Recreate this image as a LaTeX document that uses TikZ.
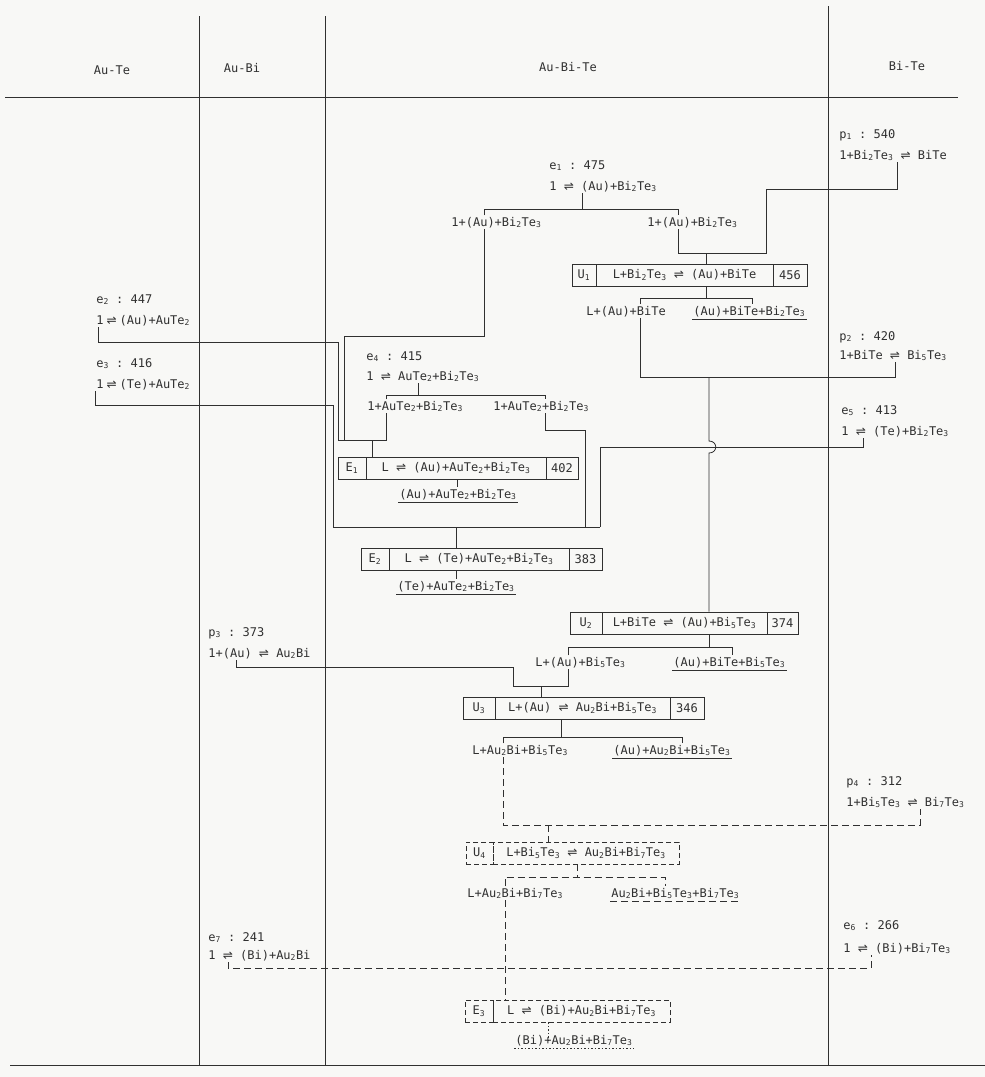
\documentclass[tikz,border=0pt]{standalone}
\usepackage{fontspec}
\newfontfamily\lf{DejaVu Sans Mono}
\newfontfamily\af{DejaVu Sans}
\newcommand\dn[1]{\textsubscript{#1}}
\newcommand\rx{{\af ⇌}}
\newcommand\nrx{\hspace{3pt}{\af ⇌}\hspace{3pt}}
\definecolor{ink}{HTML}{303030}
\definecolor{paper}{HTML}{F8F8F6}
\begin{document}
\begin{tikzpicture}[x=1pt,y=-1pt,line width=0.8pt,color=ink,
  font=\lf\fontsize{12}{14}\selectfont,
  lab/.style={inner sep=1pt,anchor=base west},
  hd/.style={inner sep=1pt,anchor=base},
  cell/.style={draw,inner sep=0pt,minimum height=22pt,anchor=center},
  dsh/.style={dash pattern=on 7pt off 4pt},
  dcell/.style={cell,dash pattern=on 5pt off 3pt},
  dot/.style={dash pattern=on 1.5pt off 2pt}]
\useasboundingbox (0,0) rectangle (985,1077);
\fill[paper] (0,0) rectangle (985,1077);
% table frame
\draw (5,97) -- (958,97);
\draw (199,16) -- (199,1065);
\draw (325,16) -- (325,1065);
\draw (828,6) -- (828,1065);
\draw (10,1065) -- (985,1065);
\node[hd] (hAuTe) at (112,74) {Au-Te};
\node[hd] (hAuBi) at (242,72) {Au-Bi};
\node[hd] (hAuBiTe) at (568,71) {Au-Bi-Te};
\node[hd] (hBiTe) at (907,70) {Bi-Te};
% labels
\node[lab] (p1a) at (838,138) {p\dn1~:~540};
\node[lab] (p1b) at (838,159) {1+Bi\dn2Te\dn3~\rx~BiTe};
\node[lab] (e1a) at (548,169) {e\dn1~:~475};
\node[lab] (e1b) at (548,190) {1~\rx~(Au)+Bi\dn2Te\dn3};
\node[lab] (e1L) at (450,226) {1+(Au)+Bi\dn2Te\dn3};
\node[lab] (e1R) at (646,226) {1+(Au)+Bi\dn2Te\dn3};
\node[cell,minimum width=24pt] (U1a) at (584,275) {U\dn1};
\node[cell,minimum width=177pt] (U1m) at (684.5,275) {L+Bi\dn2Te\dn3~\rx~(Au)+BiTe};
\node[cell,minimum width=34pt] (U1t) at (790,275) {456};
\node[lab] (U1L) at (585,315) {L+(Au)+BiTe};
\node[lab] (U1R) at (692,315) {(Au)+BiTe+Bi\dn2Te\dn3};
\node[lab] (e2a) at (95,303) {e\dn2~:~447};
\node[lab] (e2b) at (95,324) {1\nrx(Au)+AuTe\dn2};
\node[lab] (e3a) at (95,367) {e\dn3~:~416};
\node[lab] (e3b) at (95,388) {1\nrx(Te)+AuTe\dn2};
\node[lab] (p2a) at (838,340) {p\dn2~:~420};
\node[lab] (p2b) at (838,359) {1+BiTe~\rx~Bi\dn5Te\dn3};
\node[lab] (e4a) at (365,360) {e\dn4~:~415};
\node[lab] (e4b) at (365,380) {1~\rx~AuTe\dn2+Bi\dn2Te\dn3};
\node[lab] (e4L) at (366,410) {1+AuTe\dn2+Bi\dn2Te\dn3};
\node[lab] (e4R) at (492,410) {1+AuTe\dn2+Bi\dn2Te\dn3};
\node[lab] (e5a) at (840,414) {e\dn5~:~413};
\node[lab] (e5b) at (840,435) {1~\rx~(Te)+Bi\dn2Te\dn3};
\node[cell,minimum width=28pt] (E1a) at (352,468) {E\dn1};
\node[cell,minimum width=180pt] (E1m) at (456,468) {L~\rx~(Au)+AuTe\dn2+Bi\dn2Te\dn3};
\node[cell,minimum width=32pt] (E1t) at (562,468) {402};
\node[hd] (E1p) at (458,498) {(Au)+AuTe\dn2+Bi\dn2Te\dn3};
\node[cell,minimum width=28pt] (E2a) at (375,559) {E\dn2};
\node[cell,minimum width=180pt] (E2m) at (479,559) {L~\rx~(Te)+AuTe\dn2+Bi\dn2Te\dn3};
\node[cell,minimum width=33pt] (E2t) at (585.5,559) {383};
\node[hd] (E2p) at (456,590) {(Te)+AuTe\dn2+Bi\dn2Te\dn3};
\node[cell,minimum width=32pt] (U2a) at (586,623) {U\dn2};
\node[cell,minimum width=165pt] (U2m) at (684.5,623) {L+BiTe~\rx~(Au)+Bi\dn5Te\dn3};
\node[cell,minimum width=31pt] (U2t) at (782.5,623) {374};
\node[lab] (U2L) at (534,666) {L+(Au)+Bi\dn5Te\dn3};
\node[lab] (U2R) at (672,666) {(Au)+BiTe+Bi\dn5Te\dn3};
\node[lab] (p3a) at (207,636) {p\dn3~:~373};
\node[lab] (p3b) at (207,657) {1+(Au)~\rx~Au\dn2Bi};
\node[cell,minimum width=32pt] (U3a) at (479,708) {U\dn3};
\node[cell,minimum width=175pt] (U3m) at (582.5,708) {L+(Au)~\rx~Au\dn2Bi+Bi\dn5Te\dn3};
\node[cell,minimum width=34pt] (U3t) at (687,708) {346};
\node[lab] (U3L) at (471,754) {L+Au\dn2Bi+Bi\dn5Te\dn3};
\node[lab] (U3R) at (612,754) {(Au)+Au\dn2Bi+Bi\dn5Te\dn3};
\node[lab] (p4a) at (845,785) {p\dn4~:~312};
\node[lab] (p4b) at (845,806) {1+Bi\dn5Te\dn3~\rx~Bi\dn7Te\dn3};
\node[dcell,minimum width=27pt] (U4a) at (479.5,853) {U\dn4};
\node[dcell,minimum width=186pt] (U4m) at (586,853) {L+Bi\dn5Te\dn3~\rx~Au\dn2Bi+Bi\dn7Te\dn3};
\node[lab] (U4L) at (466,897) {L+Au\dn2Bi+Bi\dn7Te\dn3};
\node[lab] (U4R) at (610,897) {Au\dn2Bi+Bi\dn5Te\dn3+Bi\dn7Te\dn3};
\node[lab] (e6a) at (842,929) {e\dn6~:~266};
\node[lab] (e6b) at (842,952) {1~\rx~(Bi)+Bi\dn7Te\dn3};
\node[lab] (e7a) at (207,941) {e\dn7~:~241};
\node[lab] (e7b) at (207,959) {1~\rx~(Bi)+Au\dn2Bi};
\node[dcell,minimum width=28pt] (E3a) at (479,1011) {E\dn3};
\node[dcell,minimum width=177pt] (E3m) at (581.5,1011) {L~\rx~(Bi)+Au\dn2Bi+Bi\dn7Te\dn3};
\node[lab] (E3p) at (514,1044) {(Bi)+Au\dn2Bi+Bi\dn7Te\dn3};
% junction coordinates
\coordinate (jU1) at (706,253);
\coordinate (jE1) at (372,440);
\coordinate (jE2) at (456,527);
\coordinate (jU2) at (709,377);
\coordinate (jU3) at (541,686);
\coordinate (jU4) at (548,825);
% connectors
\draw (p1b.south -| 897,0) -- (897,189) -- (766,189) -- (766,253) -- (678,253) -- (e1R.south -| 678,0);
\draw (jU1) -- (U1m.north -| jU1);
\draw (e1b.south -| 582,0) -- (582,209);
\draw (e1L.north -| 484,0) -- (484,209) -- (678,209) -- (e1R.north -| 678,0);
\draw (e1L.south -| 484,0) -- (484,336) -- (344,336) -- (344,440);
\draw (e2b.south -| 98,0) -- (98,342) -- (338,342) -- (338,440);
\draw (e4b.south -| 418,0) -- (418,395);
\draw (e4L.north -| 386,0) -- (386,395) -- (545,395) -- (e4R.north -| 545,0);
\draw (e4L.south -| 386,0) -- (386,440) -- (338,440);
\draw (jE1) -- (E1m.north -| jE1);
\draw (e4R.south -| 545,0) -- (545,430) -- (585,430) -- (585,527);
\draw (e3b.south -| 95,0) -- (95,405) -- (333,405) -- (333,527) -- (600,527);
\draw (e5b.south -| 863,0) -- (863,447) -- (600,447) -- (600,527);
\draw (jE2) -- (E2m.north -| jE2);
\draw (E1m.south -| 457,0) -- (E1p.north -| 457,0);
\draw (E2m.south -| 456,0) -- (E2p.north -| 456,0);
\draw (U1m.south -| 706,0) -- (706,298);
\draw (U1L.north -| 640,0) -- (640,298) -- (752,298) -- (U1R.north -| 752,0);
\draw (U1L.south -| 640,0) -- (640,377) -- (895,377) -- (p2b.south -| 895,0);
\draw (jU2) -- (709,441) .. controls (718,441) and (718,453) .. (709,453) -- (U2m.north -| jU2);
\draw (U2m.south -| 709,0) -- (709,647);
\draw (U2L.north -| 568,0) -- (568,647) -- (732,647) -- (U2R.north -| 732,0);
\draw (U2L.south -| 568,0) -- (568,686) -- (513,686) -- (513,667) -- (236,667) -- (p3b.south -| 236,0);
\draw (jU3) -- (U3m.north -| jU3);
\draw (U3m.south -| 561,0) -- (561,737);
\draw (U3L.north -| 503,0) -- (503,737) -- (682,737) -- (U3R.north -| 682,0);
\draw[dsh] (U3L.south -| 503,0) -- (503,825) -- (920,825) -- (p4b.south -| 920,0);
\draw[dsh] (jU4) -- (U4m.north -| jU4);
\draw[dsh] (U4m.south -| 577,0) -- (577,877);
\draw[dsh] (U4L.north -| 505,0) -- (505,877) -- (665,877) -- (U4R.north -| 665,0);
\draw[dsh] (U4L.south -| 505,0) -- (E3m.north -| 505,0);
\draw[dsh] (e7b.south -| 228,0) -- (228,968) -- (871,968) -- (e6b.south -| 871,0);
\draw[dot] (E3m.south -| 548,0) -- (548,1042);
% underlines
\draw ([yshift=-1.5pt]U1R.south west) -- ([yshift=-1.5pt]U1R.south east);
\draw ([yshift=-1.5pt]E1p.south west) -- ([yshift=-1.5pt]E1p.south east);
\draw ([yshift=-1.5pt]E2p.south west) -- ([yshift=-1.5pt]E2p.south east);
\draw ([yshift=-1.5pt]U2R.south west) -- ([yshift=-1.5pt]U2R.south east);
\draw ([yshift=-1.5pt]U3R.south west) -- ([yshift=-1.5pt]U3R.south east);
\draw[dsh] ([yshift=-1.5pt]U4R.south west) -- ([yshift=-1.5pt]U4R.south east);
\draw[dot] ([yshift=-1.5pt]E3p.south west) -- ([yshift=-1.5pt]E3p.south east);
\end{tikzpicture}
\end{document}
